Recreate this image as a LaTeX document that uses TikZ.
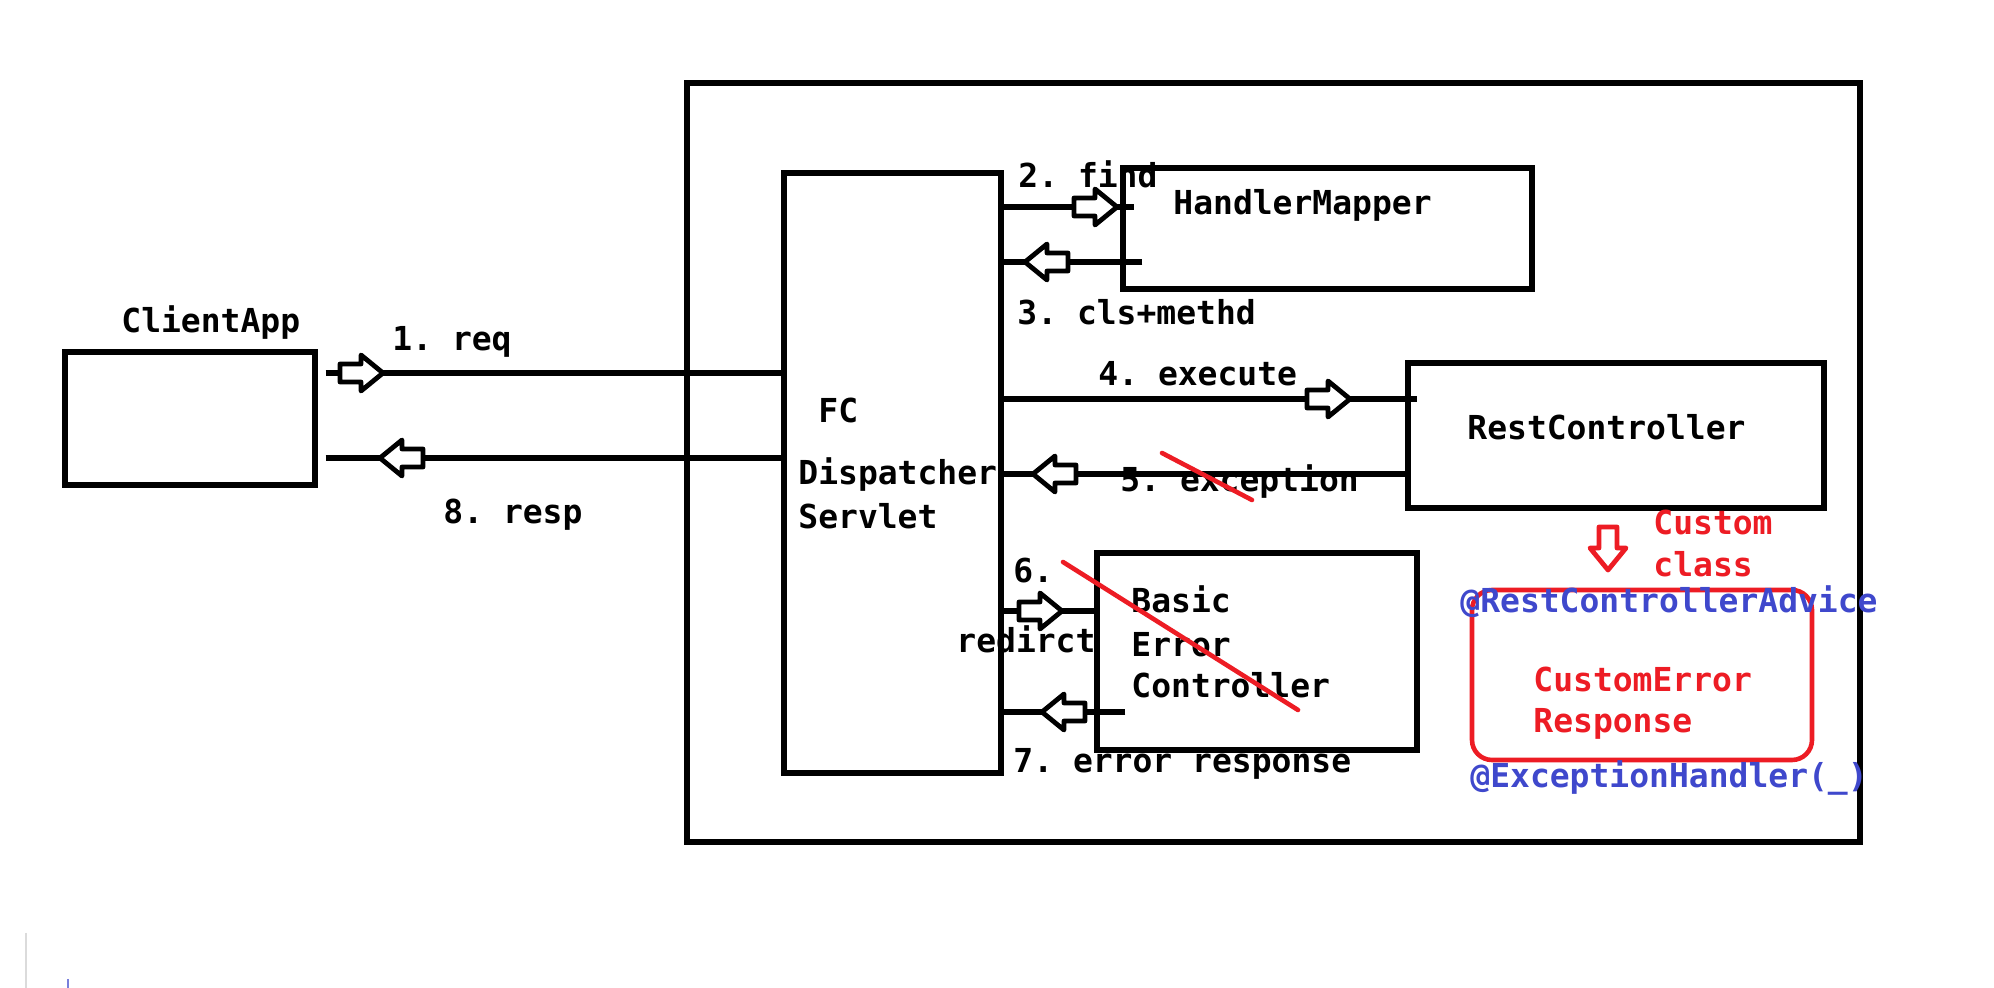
\documentclass[tikz,border=0pt]{standalone}
\usepackage{fontspec}
\setmonofont{DejaVu Sans Mono}
\usetikzlibrary{calc}
\definecolor{paintred}{RGB}{237,28,36}
\definecolor{paintblue}{RGB}{63,72,204}
\tikzset{
  box/.style={draw, line width=2.6pt, inner sep=0pt},
  lbl/.style={font=\ttfamily\bfseries\fontsize{16.5}{21.5}\selectfont, inner sep=0pt, anchor=base west},
  conn/.style={line width=2.6pt},
  strike/.style={draw=paintred, line width=2.3pt, line cap=round},
  pics/hollow/.style={code={
    \draw[line width=2.4pt, line join=round, fill=white, draw=#1]
      (0,0) -- (-22,-18) -- (-22,-9) -- (-43,-9) -- (-43,9) -- (-22,9) -- (-22,18) -- cycle;}},
  pics/hollow/.default=black
}
\begin{document}
\begin{tikzpicture}[x=0.5pt,y=-0.5pt]
    \useasboundingbox (0,0) rectangle (1994,988);
    % boxes
    \node[box, minimum width=586.5pt, minimum height=379.5pt] (outer) at (1273.5,462.5) {};
    \node[box, minimum width=125pt, minimum height=66.5pt] (client) at (190,418.5) {};
    \node[box, minimum width=108.5pt, minimum height=300pt] (fc) at (892.5,473) {};
    \node[box, minimum width=204.5pt, minimum height=60.5pt] (mapper) at (1327.5,228.5) {};
    \node[box, minimum width=208pt, minimum height=72.5pt] (rest) at (1616,435.5) {};
    \node[box, minimum width=160pt, minimum height=98.5pt] (basic) at (1257,651.5) {};
    \node[box, draw=paintred, line width=2.3pt, rounded corners=10pt,
          minimum width=170pt, minimum height=85pt] (advice) at (1642,675) {};
    % connectors
    \draw[conn] (client.east |- 0,373) ++(8,0) -- (fc.west |- 0,373);
    \draw[conn] (client.east |- 0,458) ++(8,0) -- (fc.west |- 0,458);
    \draw[conn] (fc.east |- 0,207) ++(-4,0) -- (mapper.west |- 0,207) -- ++(14,0);
    \draw[conn] (mapper.west |- 0,262) ++(22,0) -- (fc.east |- 0,262);
    \draw[conn] (fc.east |- 0,399) -- (rest.west |- 0,399) -- ++(12,0);
    \draw[conn] (rest.west |- 0,474) ++(5,0) -- (fc.east |- 0,474);
    \draw[conn] (fc.east |- 0,611) ++(-4,0) -- (basic.west |- 0,611);
    \draw[conn] (basic.west |- 0,712) ++(31,0) -- (fc.east |- 0,712) -- ++(-3,0);
    % hollow arrow heads
    \pic at (383,373) {hollow};
    \pic[rotate=180] at (380,458) {hollow};
    \pic at (1117,207) {hollow};
    \pic[rotate=180] at (1025,262) {hollow};
    \pic at (1350,399) {hollow};
    \pic[rotate=180] at (1033,474) {hollow};
    \pic at (1062,611) {hollow};
    \pic[rotate=180] at (1042,712) {hollow};
    \pic[rotate=-90] at (1608,570) {hollow=paintred};
    % labels
    \node[lbl] (clientlbl) at (121,333) {ClientApp};
    \node[lbl] (req) at (392,351) {1. req};
    \node[lbl] (resp) at (443,524) {8. resp};
    \node[lbl] (fclbl) at (818,423) {FC};
    \node[lbl] (disp) at (798,485) {Dispatcher};
    \node[lbl] (serv) at (798,529) {Servlet};
    \node[lbl] (find) at (1018,188) {2. find};
    \node[lbl] (cls) at (1017,325) {3. cls+methd};
    \node[lbl] (mapperlbl) at (1173,215) {HandlerMapper};
    \node[lbl] (exec) at (1098,386) {4. execute};
    \node[lbl] (restlbl) at (1467,440) {RestController};
    \node[lbl] (excp) at (1120,492) {5. exception};
    \node[lbl] (six) at (1013,583) {6.};
    \node[lbl] (redir) at (956,653) {redirct};
    \node[lbl] (basic1) at (1131,613) {Basic};
    \node[lbl] (basic2) at (1131,657) {Error};
    \node[lbl] (basic3) at (1131,698) {Controller};
    \node[lbl] (errresp) at (1013,773) {7. error response};
    \node[lbl, text=paintred] (cust1) at (1653,535) {Custom};
    \node[lbl, text=paintred] (cust2) at (1653,577) {class};
    \node[lbl, text=paintblue] (advlbl) at (1460,613) {@RestControllerAdvice};
    \node[lbl, text=paintred] (cer1) at (1533,692) {CustomError};
    \node[lbl, text=paintred] (cer2) at (1533,733) {Response};
    \node[lbl, text=paintblue] (handler) at (1470,788) {@ExceptionHandler(\_)};
    % strike-outs
    \draw[strike] (1162,453) -- (1252,500);
    \draw[strike] (1063,562) -- (1298,710);
    % screen remnant
    \draw[black!14, line width=1pt] (26,933) -- (26,988);
    \draw[paintblue!70, line width=0.8pt] (68,979) -- (68,988);
\end{tikzpicture}
\end{document}
